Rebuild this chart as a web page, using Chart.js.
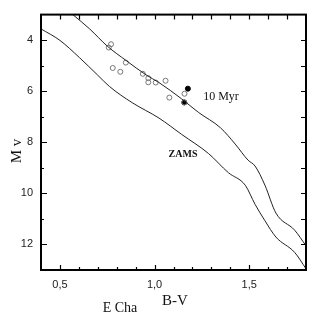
<!DOCTYPE html>
<html>
<head>
<meta charset="utf-8">
<script src="https://cdn.jsdelivr.net/npm/chart.js@4/dist/chart.umd.min.js"></script>
<style>
html,body{margin:0;padding:0;background:#fff;}
#wrap{width:311px;height:317px;position:relative;}
</style>
</head>
<body>
<div id="wrap"><canvas id="c" width="311" height="317"></canvas></div>
<script>
// ZAMS curve (B-V, Mv)
const zamsBV = [0.40,0.50,0.604,0.698,0.761,0.882,1.023,1.143,1.285,1.39,1.479,1.531,1.583,1.641,1.74,1.80];
const zamsMv = [3.56,4.01,4.69,5.36,5.81,6.45,7.05,7.69,8.44,9.19,9.68,10.43,11.07,11.71,12.31,12.95];
// 10 Myr isochrone
const isoBV = [0.568,0.657,0.751,0.850,0.955,1.023,1.143,1.232,1.348,1.426,1.494,1.531,1.583,1.641,1.74,1.80];
const isoMv = [3.00,3.56,4.24,4.80,5.36,5.66,6.30,6.83,7.43,8.07,8.70,8.93,9.68,10.77,11.44,12.05];
// E Cha members (open circles)
const openBV = [0.770,0.758,0.848,0.779,0.819,0.938,0.967,0.967,1.006,1.058,1.078,1.158,1.157];
const openMv = [4.16,4.29,4.88,5.09,5.24,5.32,5.49,5.65,5.66,5.59,6.25,6.10,6.44];
// filled circles
const fillBV = [1.176,1.157];
const fillMv = [5.90,6.44];
// ticks
const xTickLabels = [0.5,1.0,1.5];
const yTickLabels = [4,6,8,10,12];
const xMinorTicks = [0.5,0.6,0.7,0.8,0.9,1.0,1.1,1.2,1.3,1.4,1.5,1.6,1.7];
const yMinorTicks = [4,5,6,7,8,9,10,11,12];
// texts
const xTitle = "B-V";
const yTitle = "M v";
const regionLabel = "E Cha";
const isoLabel = "10 Myr";
const zamsLabel = "ZAMS";

const pts = (xs, ys) => xs.map((x,i)=>({x:x,y:ys[i]}));

const frame = {
  id:'frame',
  afterDraw(chart){
    const ctx = chart.ctx, a = chart.chartArea;
    const xs = chart.scales.x, ys = chart.scales.y;
    ctx.save();
    ctx.strokeStyle = '#000';
    ctx.lineWidth = 1.2;
    ctx.beginPath();
    xMinorTicks.forEach(v=>{
      const px = Math.round(xs.getPixelForValue(v))+0.5;
      const major = xTickLabels.some(t=>Math.abs(t-v)<1e-6);
      ctx.moveTo(px,a.bottom); ctx.lineTo(px,a.bottom-(major?5:3));
      ctx.moveTo(px,a.top); ctx.lineTo(px,a.top+5);
    });
    yMinorTicks.forEach(v=>{
      const py = Math.round(ys.getPixelForValue(v))+0.5;
      const major = yTickLabels.includes(v);
      ctx.moveTo(a.left,py); ctx.lineTo(a.left+(major?6:3),py);
      ctx.moveTo(a.right,py); ctx.lineTo(a.right-5,py);
    });
    ctx.stroke();
    ctx.lineWidth = 2;
    ctx.strokeRect(a.left,a.top,a.right-a.left,a.bottom-a.top);
    ctx.fillStyle = '#111';
    ctx.textAlign = 'center';
    ctx.textBaseline = 'middle';
    ctx.font = '15px "Liberation Serif"';
    ctx.fillText(xTitle, 175, 301);
    ctx.font = '14px "Liberation Serif"';
    ctx.fillText(regionLabel, 120, 308);
    ctx.font = '12px "Liberation Serif"';
    ctx.fillText(isoLabel, 221, 97);
    ctx.font = 'bold 10px "Liberation Serif"';
    ctx.fillText(zamsLabel, 183, 154);
    ctx.save();
    ctx.translate(17,151);
    ctx.rotate(-Math.PI/2);
    ctx.font = '15px "Liberation Serif"';
    ctx.fillText(yTitle, 0, 0);
    ctx.restore();
    ctx.restore();
  }
};

new Chart(document.getElementById('c'), {
  type:'scatter',
  data:{datasets:[
    {data:pts(zamsBV,zamsMv), showLine:true, borderColor:'#222', borderWidth:1, pointRadius:0, cubicInterpolationMode:'monotone'},
    {data:pts(isoBV,isoMv), showLine:true, borderColor:'#222', borderWidth:1, pointRadius:0, cubicInterpolationMode:'monotone'},
    {data:pts(openBV,openMv), showLine:false, pointRadius:2.5, pointBorderWidth:1, pointBorderColor:'#777', pointBackgroundColor:'rgba(0,0,0,0)'},
    {data:pts(fillBV,fillMv), showLine:false, pointRadius:2.5, pointBorderWidth:1, pointBorderColor:'#000', pointBackgroundColor:'#000'}
  ]},
  options:{
    responsive:false, animation:false,
    layout:{padding:{top:5,right:3,left:0,bottom:0}},
    plugins:{legend:{display:false}, tooltip:{enabled:false}},
    scales:{
      x:{type:'linear', min:0.4, max:1.8,
        afterBuildTicks(s){ s.ticks = xTickLabels.map(v=>({value:v})); },
        afterFit(s){ s.height = 47; },
        grid:{display:false, drawTicks:false}, border:{display:false},
        ticks:{padding:8, color:'#222', font:{family:'"Liberation Sans"', size:11},
          callback:v=>v.toFixed(1).replace('.',',')}
      },
      y:{type:'linear', min:3, max:13, reverse:true,
        afterBuildTicks(s){ s.ticks = yTickLabels.map(v=>({value:v})); },
        afterFit(s){ s.width = 41; },
        grid:{display:false, drawTicks:false}, border:{display:false},
        ticks:{padding:8, color:'#222', font:{family:'"Liberation Sans"', size:11}}
      }
    }
  },
  plugins:[frame]
});
</script>
</body>
</html>
